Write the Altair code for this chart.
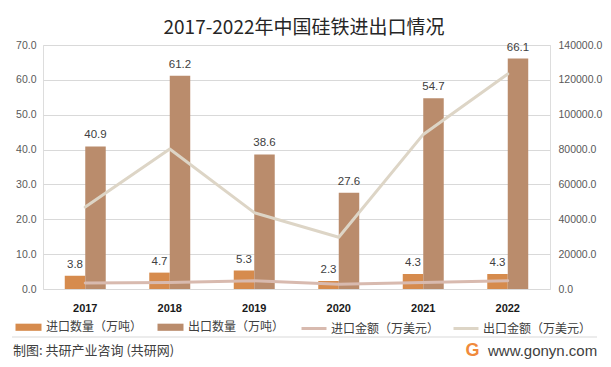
import altair as alt
import pandas as pd

# ---------------- data ----------------
years = ["2017", "2018", "2019", "2020", "2021", "2022"]
import_qty = [3.8, 4.7, 5.3, 2.3, 4.3, 4.3]          # 万吨
export_qty = [40.9, 61.2, 38.6, 27.6, 54.7, 66.1]    # 万吨
import_amt = [3400, 3800, 4700, 2700, 3800, 4700]    # 万美元
export_amt = [47000, 80300, 43800, 29700, 88700, 123400]  # 万美元

qty_names = ["进口数量（万吨）", "出口数量（万吨）"]
amt_names = ["进口金额（万美元）", "出口金额（万美元）"]
bar_colors = ["#D68B4D", "#BA8C6C"]
line_colors = ["#D8BAAF", "#DDD5C6"]

left_ticks = [0, 10, 20, 30, 40, 50, 60, 70]
right_ticks = [0, 20000, 40000, 60000, 80000, 100000, 120000, 140000]

title_text = "2017-2022年中国硅铁进出口情况"
source_text = "制图: 共研产业咨询 (共研网)"
site_text = "www.gonyn.com"

qty_df = pd.DataFrame({
    "year": years * 2,
    "series": [qty_names[0]] * len(years) + [qty_names[1]] * len(years),
    "value": import_qty + export_qty,
})
amt_df = pd.DataFrame({
    "year": years * 2,
    "series": [amt_names[0]] * len(years) + [amt_names[1]] * len(years),
    "value": import_amt + export_amt,
})

CJK = "Noto Sans CJK SC"
NUM = "Liberation Sans"

x_enc = alt.X(
    "year:N", sort=years, title=None,
    scale=alt.Scale(paddingInner=0.515, paddingOuter=0.2575),
    axis=alt.Axis(labelFont=NUM, labelFontWeight="bold", labelFontSize=11,
                  labelColor="#1A1A1A", ticks=False, domain=False,
                  labelPadding=13, labelAngle=0, grid=False),
)
xoff_enc = alt.XOffset("series:N", sort=qty_names, scale=alt.Scale(domain=qty_names))
y_left = alt.Y(
    "value:Q", title=None,
    scale=alt.Scale(domain=[0, 70], nice=False),
    axis=alt.Axis(orient="left", values=left_ticks, format=".1f", labelFont=NUM,
                  labelFontSize=10.5, labelColor="#595959", labelPadding=7,
                  ticks=False, domain=False, grid=True, gridColor="#D9D9D9",
                  gridWidth=1),
)

bars = alt.Chart(qty_df).mark_bar().encode(
    x=x_enc,
    xOffset=xoff_enc,
    y=y_left,
    fill=alt.Fill(
        "series:N", sort=qty_names,
        scale=alt.Scale(domain=qty_names, range=bar_colors),
        legend=alt.Legend(
            orient="none", legendX=-33.5, legendY=275.5, direction="horizontal",
            title=None, symbolType="M-2,-0.55H2V0.55H-2Z", symbolSize=169,
            symbolOffset=12.5, labelOffset=11, columnPadding=9,
            labelFont=CJK, labelFontSize=12, labelColor="#404040",
            symbolStrokeWidth=0, symbolOpacity=1, padding=0,
        ),
    ),
)

labels = alt.Chart(qty_df).mark_text(
    baseline="bottom", dy=-6, font=NUM, fontSize=11.5, color="#404040"
).encode(
    x=alt.X("year:N", sort=years),
    xOffset=xoff_enc,
    y=alt.Y("value:Q", scale=alt.Scale(domain=[0, 70], nice=False), axis=None),
    text=alt.Text("value:Q", format=".1f"),
)

lines = alt.Chart(amt_df).mark_line(
    strokeWidth=3, strokeCap="round", strokeJoin="round"
).encode(
    x=alt.X("year:N", sort=years),
    y=alt.Y(
        "value:Q", title=None,
        scale=alt.Scale(domain=[0, 140000], nice=False),
        axis=alt.Axis(orient="right", values=right_ticks, format=".1f",
                      labelFont=NUM, labelFontSize=10.5, labelColor="#595959",
                      labelPadding=8, ticks=False, domain=False, grid=False),
    ),
    stroke=alt.Stroke(
        "series:N", sort=amt_names,
        scale=alt.Scale(domain=amt_names, range=line_colors),
        legend=alt.Legend(
            orient="none", legendX=257, legendY=269.5, direction="horizontal",
            title=None, symbolType="stroke", symbolSize=625,
            symbolStrokeWidth=3, labelOffset=3, columnPadding=7,
            labelFont=CJK, labelFontSize=12, labelColor="#404040", padding=0,
        ),
    ),
    order=alt.Order("year:N"),
)

one = pd.DataFrame({"k": [0]})

title = alt.Chart(pd.DataFrame({"t": [title_text]})).mark_text(
    font=CJK, fontSize=19, color="#262626", align="center", baseline="middle"
).encode(text="t:N", x=alt.value(261), y=alt.value(-17))

separator = alt.Chart(one).mark_rule(color="#D9D9D9", strokeWidth=1).encode(
    x=alt.value(-31), x2=alt.value(554), y=alt.value(292)
)

source = alt.Chart(pd.DataFrame({"t": [source_text]})).mark_text(
    font=CJK, fontSize=13, color="#404040", align="left", baseline="middle",
).encode(text="t:N", x=alt.value(-30), y=alt.value(306))

logo = alt.Chart(pd.DataFrame({"t": ["G"]})).mark_text(
    font=NUM, fontSize=18, fontWeight="bold", color="#F08A3C",
    align="center", baseline="middle",
).encode(text="t:N", x=alt.value(429.5), y=alt.value(306))

site = alt.Chart(pd.DataFrame({"t": [site_text]})).mark_text(
    font=NUM, fontSize=15, color="#404040", align="left", baseline="middle"
).encode(text="t:N", x=alt.value(445), y=alt.value(305.5))

chart = alt.layer(
    bars, labels, lines, title, separator, source, logo, site
).resolve_scale(
    y="independent"
).properties(
    width=507, height=244,
    padding={"left": 35, "top": 37, "right": 53, "bottom": 70},
    autosize=alt.AutoSizeParams(type="none"),
    background="white",
).configure_view(
    stroke=None
).configure(
    font=CJK
)

chart.save("out.html", embed_options={"renderer": "svg", "actions": False})
